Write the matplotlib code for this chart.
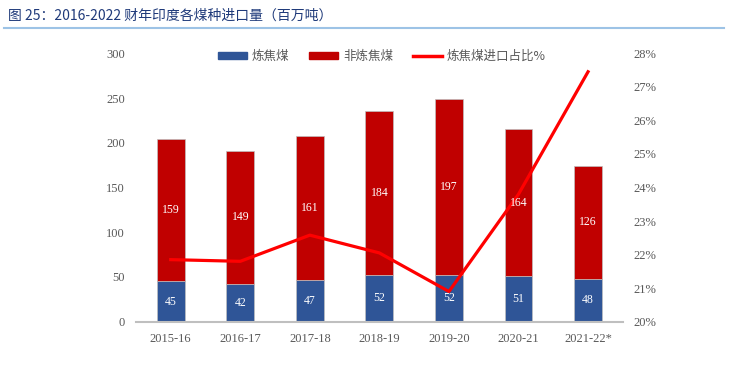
import matplotlib.pyplot as plt
import numpy as np
from matplotlib.lines import Line2D
from matplotlib.patches import Patch

# India coal imports by type, FY2016-2022 (million tonnes)
years = ["2015-16", "2016-17", "2017-18", "2018-19", "2019-20", "2020-21", "2021-22*"]
coking = [45, 42, 47, 52, 52, 51, 48]
non_coking = [159, 149, 161, 184, 197, 164, 126]
coking_share = [21.85, 21.8, 22.58, 22.05, 20.9, 23.8, 27.45]  # %

blue = "#2F5597"
dark_red = "#C00000"
red = "#FF0000"
grey = "#595959"
cjk = ["Noto Sans CJK SC", "DejaVu Sans"]
serif = ["Liberation Serif", "DejaVu Serif"]

fig = plt.figure(figsize=(7.31, 3.76), dpi=100)
ax = fig.add_axes([0.186, 0.1444, 0.666, 0.7138])
x = np.arange(len(years))

ax.bar(x, coking, width=0.4, color=blue, edgecolor="#BFBFBF", linewidth=0.5)
ax.bar(x, non_coking, width=0.4, bottom=coking, color=dark_red, edgecolor="#BFBFBF", linewidth=0.5)

ax.set_xlim(-0.5, len(years) - 0.5)
ax.set_ylim(0, 300)
ax.set_yticks(range(0, 301, 50))
ax.set_xticks(x)
ax.set_xticklabels(years)
for s in ["top", "right", "left"]:
    ax.spines[s].set_visible(False)
ax.spines["bottom"].set_color("#BFBFBF")
ax.spines["bottom"].set_linewidth(1.5)
ax.tick_params(length=0, labelsize=9, labelcolor=grey, pad=8)
for lab in ax.get_xticklabels() + ax.get_yticklabels():
    lab.set_family(serif)

ax2 = ax.twinx()
ax2.plot(x, coking_share, color=red, linewidth=2.3)
ax2.set_ylim(20, 28)
ax2.set_yticks(range(20, 29))
ax2.set_yticklabels([f"{v}%" for v in range(20, 29)])
for s in ax2.spines.values():
    s.set_visible(False)
ax2.tick_params(length=0, labelsize=9, labelcolor=grey, pad=8)
for lab in ax2.get_yticklabels():
    lab.set_family(serif)

# value labels sit on top of the line
for i in range(len(years)):
    ax2.text(x[i], coking[i] / 2, str(coking[i]), ha="center", va="center", transform=ax.transData,
             color="white", fontsize=8.5, family=serif, zorder=5)
    ax2.text(x[i], coking[i] + non_coking[i] / 2, str(non_coking[i]), ha="center", va="center",
             transform=ax.transData, color="white", fontsize=8.5, family=serif, zorder=5)

handles = [Patch(color=blue), Patch(color=dark_red), Line2D([], [], color=red, lw=2.5)]
labels = ["炼焦煤", "非炼焦煤", "炼焦煤进口占比%"]
leg = ax2.legend(handles, labels, loc="upper center", bbox_to_anchor=(0.505, 1.055), ncol=3,
                 frameon=False, prop={"family": cjk, "size": 9}, handlelength=2.3,
                 handleheight=0.5, columnspacing=1.6, handletextpad=0.4)
for t in leg.get_texts():
    t.set_color(grey)

fig.text(0.011, 0.958, "图 25：2016-2022 财年印度各煤种进口量（百万吨）", color="#1F3A7A",
         fontsize=10, family=cjk, va="center")
fig.add_artist(Line2D([0.005, 0.99], [0.925, 0.925], color="#9DC3E6", lw=1.5))

fig.savefig("out.png", dpi=100)
